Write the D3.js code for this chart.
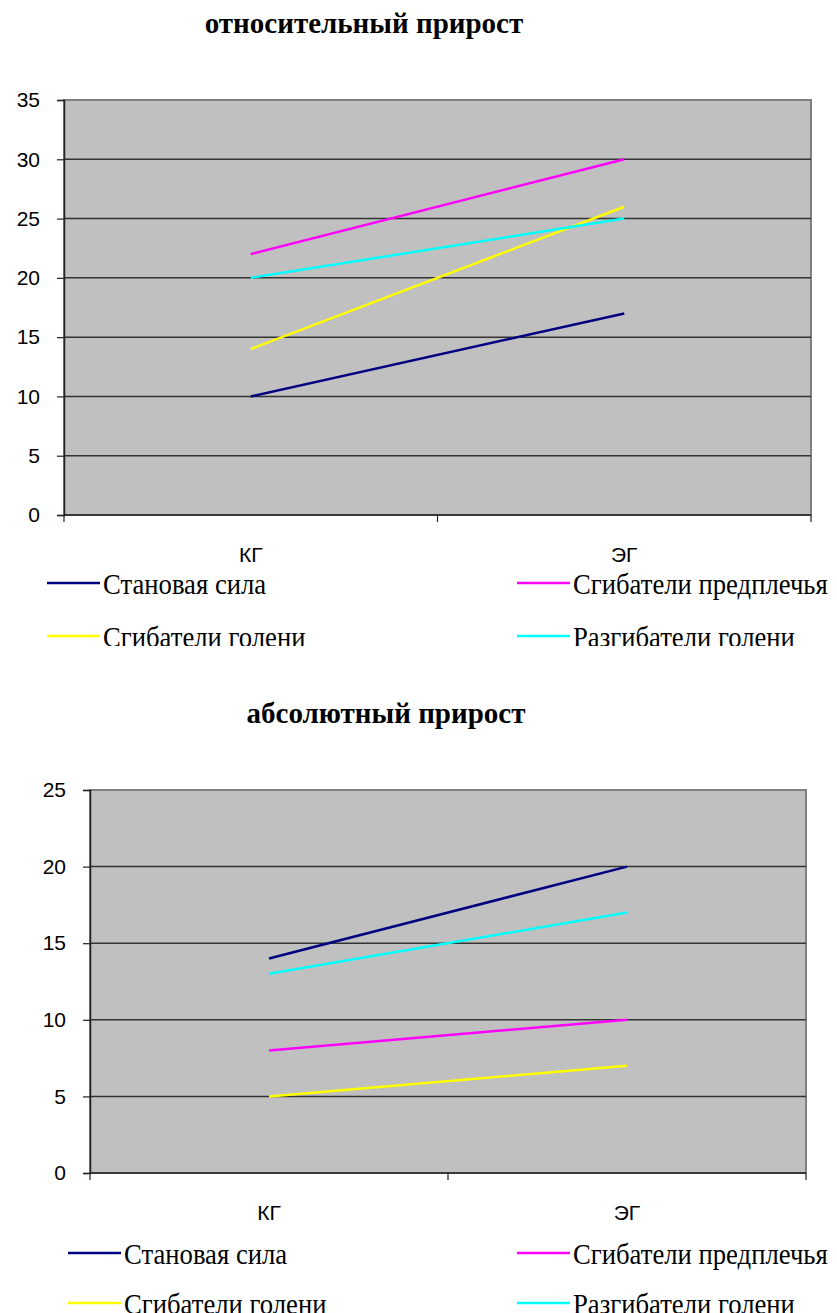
<!DOCTYPE html>
<html>
<head>
<meta charset="utf-8">
<script src="https://cdn.jsdelivr.net/npm/d3@7"></script>
<style>
  html, body { margin: 0; padding: 0; background: #fff; }
  svg { display: block; }
</style>
</head>
<body>
<svg id="root" width="837" height="1313"></svg>
<script>
// Groups on the category axis
const categories = ["КГ", "ЭГ"];
const seriesNames = ["Становая сила", "Сгибатели предплечья", "Сгибатели голени", "Разгибатели голени"];
const seriesColors = ["#000080", "#ff00ff", "#ffff00", "#00ffff"];

// Relative gain, %
const relStanovaya = [10, 17];
const relPredplechye = [22, 30];
const relGolenFlex = [14, 26];
const relGolenExt = [20, 25];
const relTicks = [0, 5, 10, 15, 20, 25, 30, 35];

// Absolute gain
const absStanovaya = [14, 20];
const absPredplechye = [8, 10];
const absGolenFlex = [5, 7];
const absGolenExt = [13, 17];
const absTicks = [0, 5, 10, 15, 20, 25];

const svg = d3.select("#root");

function drawChart(cfg) {
  const g = svg.append("g");
  if (cfg.clipBottom) {
    const id = "clip" + cfg.key;
    svg.append("defs").append("clipPath").attr("id", id)
      .append("rect").attr("x", 0).attr("y", cfg.clipTop).attr("width", 837).attr("height", cfg.clipBottom - cfg.clipTop);
    g.attr("clip-path", `url(#${id})`);
  }

  const x = d3.scaleBand().domain(categories).range([cfg.left, cfg.right]);
  const y = d3.scaleLinear().domain([0, d3.max(cfg.ticks)]).range([cfg.bottom, cfg.top]);

  // title
  g.append("text")
    .attr("x", cfg.titleX).attr("y", cfg.titleY)
    .attr("text-anchor", "middle")
    .style("font-family", "'Liberation Serif', 'Times New Roman', serif")
    .style("font-weight", "bold")
    .style("font-size", "29px")
    .text(cfg.title);

  // plot area
  g.append("rect")
    .attr("x", cfg.left).attr("y", cfg.top)
    .attr("width", cfg.right - cfg.left).attr("height", cfg.bottom - cfg.top)
    .attr("fill", "#c0c0c0").attr("stroke", "#808080").attr("stroke-width", 2);

  // gridlines
  g.append("g").selectAll("line")
    .data(cfg.ticks.filter(t => t > 0 && t < d3.max(cfg.ticks)))
    .join("line")
    .attr("x1", cfg.left).attr("x2", cfg.right)
    .attr("y1", d => y(d)).attr("y2", d => y(d))
    .attr("stroke", "#333").attr("stroke-width", 1.5);

  // value axis
  const yAxis = g.append("g")
    .attr("transform", `translate(${cfg.left},0)`)
    .call(d3.axisLeft(y).tickValues(cfg.ticks).tickSize(7).tickPadding(17));
  yAxis.select(".domain").attr("stroke", "#222").attr("stroke-width", 1.5);
  yAxis.selectAll(".tick line").attr("stroke", "#222").attr("stroke-width", 1.2);
  yAxis.selectAll(".tick text")
    .style("font-family", "'Liberation Sans', Arial, sans-serif")
    .style("font-size", "21px").attr("fill", "#000");

  // category axis
  g.append("line")
    .attr("x1", cfg.left).attr("x2", cfg.right)
    .attr("y1", cfg.bottom).attr("y2", cfg.bottom)
    .attr("stroke", "#222").attr("stroke-width", 1.5);
  const bounds = categories.map(c => x(c)).concat([x(categories[categories.length - 1]) + x.bandwidth()]);
  g.append("g").selectAll("line").data(bounds).join("line")
    .attr("x1", d => d).attr("x2", d => d)
    .attr("y1", cfg.bottom).attr("y2", cfg.bottom + 7)
    .attr("stroke", "#222").attr("stroke-width", 1.2);
  g.append("g").selectAll("text").data(categories).join("text")
    .attr("x", d => x(d) + x.bandwidth() / 2)
    .attr("y", cfg.bottom + cfg.catDy)
    .attr("text-anchor", "middle")
    .style("font-family", "'Liberation Sans', Arial, sans-serif")
    .style("font-size", "21px")
    .text(d => d);

  // series lines
  const line = d3.line()
    .x((d, i) => x(categories[i]) + x.bandwidth() / 2)
    .y(d => y(d));
  g.append("g").selectAll("path").data(cfg.series).join("path")
    .attr("d", d => line(d))
    .attr("fill", "none")
    .attr("stroke", (d, i) => seriesColors[i])
    .attr("stroke-width", 2.5);

  // legend: two columns, two rows
  const leg = g.append("g");
  seriesNames.forEach((name, i) => {
    const col = i % 2, row = Math.floor(i / 2);
    const lx = cfg.legendX[col];
    const ly = cfg.legendY[row];
    leg.append("line")
      .attr("x1", lx).attr("x2", lx + 53)
      .attr("y1", ly).attr("y2", ly)
      .attr("stroke", seriesColors[i]).attr("stroke-width", 2.5);
    leg.append("text")
      .attr("transform", `translate(${lx + 56},${ly + 11}) scale(0.92,1)`)
      .style("font-family", "'Liberation Serif', 'Times New Roman', serif")
      .style("font-size", "29px")
      .text(name);
  });
}

drawChart({
  key: "rel",
  title: "относительный прирост",
  titleX: 364, titleY: 33,
  left: 64, right: 811, top: 100, bottom: 515,
  ticks: relTicks,
  series: [relStanovaya, relPredplechye, relGolenFlex, relGolenExt],
  catDy: 47,
  legendX: [47, 517],
  legendY: [583, 636],
  clipTop: 0, clipBottom: 646
});

drawChart({
  key: "abs",
  title: "абсолютный прирост",
  titleX: 386, titleY: 723,
  left: 90, right: 806, top: 790, bottom: 1173,
  ticks: absTicks,
  series: [absStanovaya, absPredplechye, absGolenFlex, absGolenExt],
  catDy: 47,
  legendX: [68, 517],
  legendY: [1253, 1303],
  clipTop: 660, clipBottom: 1313
});
</script>
</body>
</html>
